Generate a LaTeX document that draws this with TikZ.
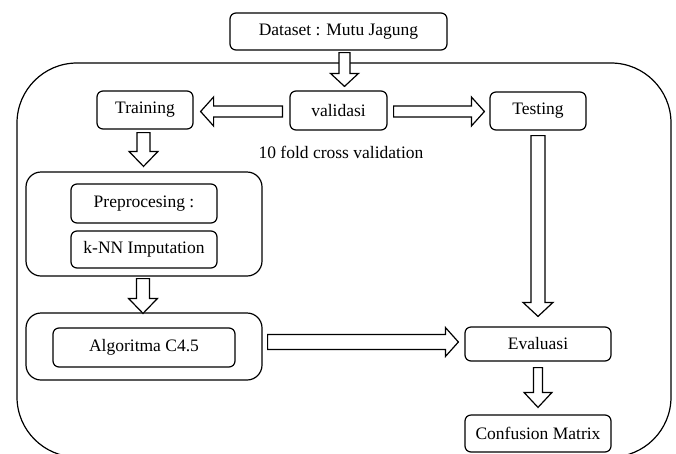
\documentclass[tikz,border=0pt]{standalone}
\usepackage{fontspec}
\setmainfont{Liberation Serif}
\usetikzlibrary{calc}
\tikzset{
  boxnode/.style={draw, rounded corners=6pt, line width=1.2pt, inner sep=0pt,
    font=\fontsize{17.5}{20}\selectfont},
  groupnode/.style={draw, rounded corners=15pt, line width=1.2pt, inner sep=0pt},
  outernode/.style={draw, rounded corners=60pt, line width=1.2pt, inner sep=0pt},
  arrowline/.style={draw, fill=white, line width=1.2pt, line join=miter},
  plaintext/.style={inner sep=0pt, font=\fontsize{17.5}{20}\selectfont}
}
\newcommand\fatarrow[5]{%
  \coordinate (fa-s) at #1;
  \coordinate (fa-e) at #2;
  \coordinate (fa-b) at ($(fa-e)!#5pt!(fa-s)$);
  \draw[arrowline] ($(fa-s)!#3pt!90:(fa-e)$) -- ($(fa-b)!#3pt!90:(fa-e)$)
    -- ($(fa-b)!#4pt!90:(fa-e)$) -- (fa-e) -- ($(fa-b)!#4pt!-90:(fa-e)$)
    -- ($(fa-b)!#3pt!-90:(fa-e)$) -- ($(fa-s)!#3pt!-90:(fa-e)$) -- cycle;}
\begin{document}
\begin{tikzpicture}[x=1pt,y=-1pt]
\useasboundingbox (0,0) rectangle (676,453);
% outer container
\node[outernode, minimum width=654pt, minimum height=394pt] (outer) at (344,260) {};
% groups
\node[groupnode, minimum width=236pt, minimum height=104pt] (g1) at (144,224) {};
\node[groupnode, minimum width=236pt, minimum height=67pt] (g2) at (144,346.5) {};
% boxes
\node[boxnode, minimum width=217pt, minimum height=37pt] (dataset) at (338.5,31.5) {Dataset : Mutu Jagung};
\node[boxnode, minimum width=97pt, minimum height=39pt] (validasi) at (338.5,110.5) {validasi};
\node[boxnode, minimum width=96pt, minimum height=38pt] (training) at (145,110) {Training};
\node[boxnode, minimum width=96pt, minimum height=38pt] (testing) at (538,111) {Testing};
\node[boxnode, minimum width=146pt, minimum height=39pt] (prep) at (144,203.5) {Preprocesing :};
\node[boxnode, minimum width=146pt, minimum height=37pt] (knn) at (144,249.5) {k-NN Imputation};
\node[boxnode, minimum width=182pt, minimum height=39pt] (algo) at (144,347.5) {Algoritma C4.5};
\node[boxnode, minimum width=146pt, minimum height=34pt] (eval) at (538,344) {Evaluasi};
\node[boxnode, minimum width=146pt, minimum height=37pt] (conf) at (538,433.5) {Confusion Matrix};
\node[plaintext] (cv) at (341,152) {10 fold cross validation};
% hollow arrows
\fatarrow{($(dataset.south)+(6,2)$)}{($(validasi.north)+(6,-4)$)}{5.5}{14}{13}
\fatarrow{($(validasi.west)+(-7,1)$)}{($(training.east)+(7,1.5)$)}{5.5}{14.5}{13}
\fatarrow{($(validasi.east)+(6,1)$)}{($(testing.west)+(-5,0.5)$)}{5.5}{14.5}{13}
\fatarrow{($(training.south)+(-1.5,3)$)}{($(g1.north)+(-0.5,-5)$)}{6.5}{14.5}{15}
\fatarrow{($(g1.south)+(-1,2)$)}{($(g2.north)+(-1,1)$)}{6.5}{14.5}{15}
\fatarrow{($(g2.east)+(5,-4.5)$)}{($(eval.west)+(-6,-2)$)}{7.5}{14.5}{13}
\fatarrow{($(testing.south)+(0,5)$)}{($(eval.north)+(0,-10)$)}{7}{15}{14}
\fatarrow{($(eval.south)+(0,6)$)}{($(conf.north)+(0,-7)$)}{4.5}{14}{15}
\end{tikzpicture}
\end{document}
